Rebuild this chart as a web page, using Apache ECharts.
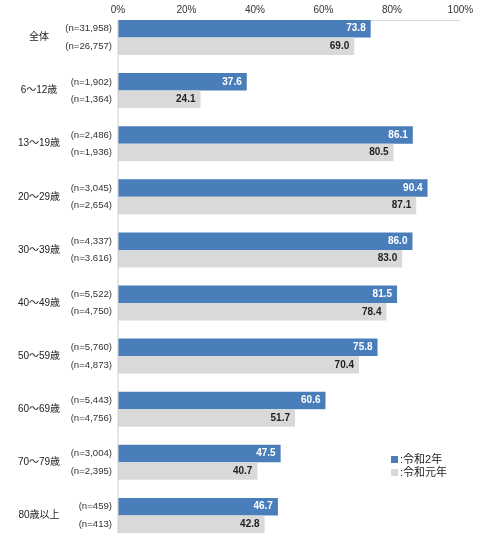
<!DOCTYPE html>
<html><head><meta charset="utf-8">
<script src="https://cdn.jsdelivr.net/npm/echarts@6/dist/echarts.min.js"></script>
<style>html,body{margin:0;padding:0;background:#fff}#c{width:504px;height:547px}</style>
</head><body><div id="c"></div>
<script>
const categories = ['全体','6～12歳','13～19歳','20～29歳','30～39歳','40～49歳','50～59歳','60～69歳','70～79歳','80歳以上'];
const valuesR2 = [73.8, 37.6, 86.1, 90.4, 86.0, 81.5, 75.8, 60.6, 47.5, 46.7];
const valuesR1 = [69.0, 24.1, 80.5, 87.1, 83.0, 78.4, 70.4, 51.7, 40.7, 42.8];
const nR2 = ['31,958','1,902','2,486','3,045','4,337','5,522','5,760','5,443','3,004','459'];
const nR1 = ['26,757','1,364','1,936','2,654','3.616','4,750','4,873','4,756','2,395','413'];
const xTicks = [0, 20, 40, 60, 80, 100];
const seriesNames = [':令和2年', ':令和元年'];

const FONT = '"Liberation Sans", "Noto Sans CJK JP", sans-serif';
const chart = echarts.init(document.getElementById('c'));
chart.setOption({
  animation: false,
  textStyle: {fontFamily: FONT},
  grid: {left: 118, right: 43.6, top: 10.95, bottom: 5.05, containLabel: false},
  legend: {
    orient: 'vertical', left: 386, top: 449, itemWidth: 7, itemHeight: 7, itemGap: 2,
    icon: 'rect',
    textStyle: {fontSize: 11, color: '#222', fontFamily: FONT, padding: [0, 0, 0, -3]},
    data: seriesNames
  },
  xAxis: {
    type: 'value', position: 'top', min: xTicks[0], max: xTicks[xTicks.length - 1], interval: 20,
    offset: -9.05,
    axisLine: {show: true, lineStyle: {color: '#d9d9d9', width: 1}},
    axisTick: {show: false},
    splitLine: {show: false},
    axisLabel: {margin: 5, fontSize: 10, color: '#333', formatter: v => v + '%'}
  },
  yAxis: [{
    type: 'category', inverse: true, data: categories,
    axisLine: {show: false}, axisTick: {show: false},
    axisLabel: {margin: 79, align: 'center', fontSize: 10, color: '#222'}
  }, {
    type: 'category', inverse: true, data: categories, position: 'left',
    axisLine: {show: false}, axisTick: {show: false},
    axisLabel: {margin: 6, align: 'right', fontSize: 9.6, color: '#333', lineHeight: 17.5,
      formatter: (v, i) => '(n=' + nR2[i] + ')\n(n=' + nR1[i] + ')'}
  }],
  series: [{
    name: seriesNames[0], type: 'bar', yAxisIndex: 0, data: valuesR2,
    barGap: '0%', barCategoryGap: '34%',
    itemStyle: {color: '#4a7ebb'},
    label: {show: true, position: 'insideRight', distance: 5, color: '#fff', fontSize: 10, fontWeight: 'bold',
      formatter: p => p.value.toFixed(1)}
  }, {
    name: seriesNames[1], type: 'bar', yAxisIndex: 0, data: valuesR1,
    barGap: '0%', barCategoryGap: '34%',
    itemStyle: {color: '#d9d9d9'},
    label: {show: true, position: 'insideRight', distance: 5, color: '#222', fontSize: 10, fontWeight: 'bold',
      formatter: p => p.value.toFixed(1)}
  }]
});
// vertical axis line at x=0 spanning from the top of the first bar to the bottom of the last bar
const x0 = chart.convertToPixel({xAxisIndex: 0}, 0);
const yFirst = chart.convertToPixel({yAxisIndex: 0}, categories[0]);
const yLast = chart.convertToPixel({yAxisIndex: 0}, categories[categories.length - 1]);
const half = (yLast - yFirst) / (categories.length - 1) * 0.66 / 2;
chart.setOption({graphic: [{type: 'line', shape: {x1: x0, y1: yFirst - half, x2: x0, y2: yLast + half},
  style: {stroke: '#cfcfcf', lineWidth: 1}, z: 10}]});
</script></body></html>
